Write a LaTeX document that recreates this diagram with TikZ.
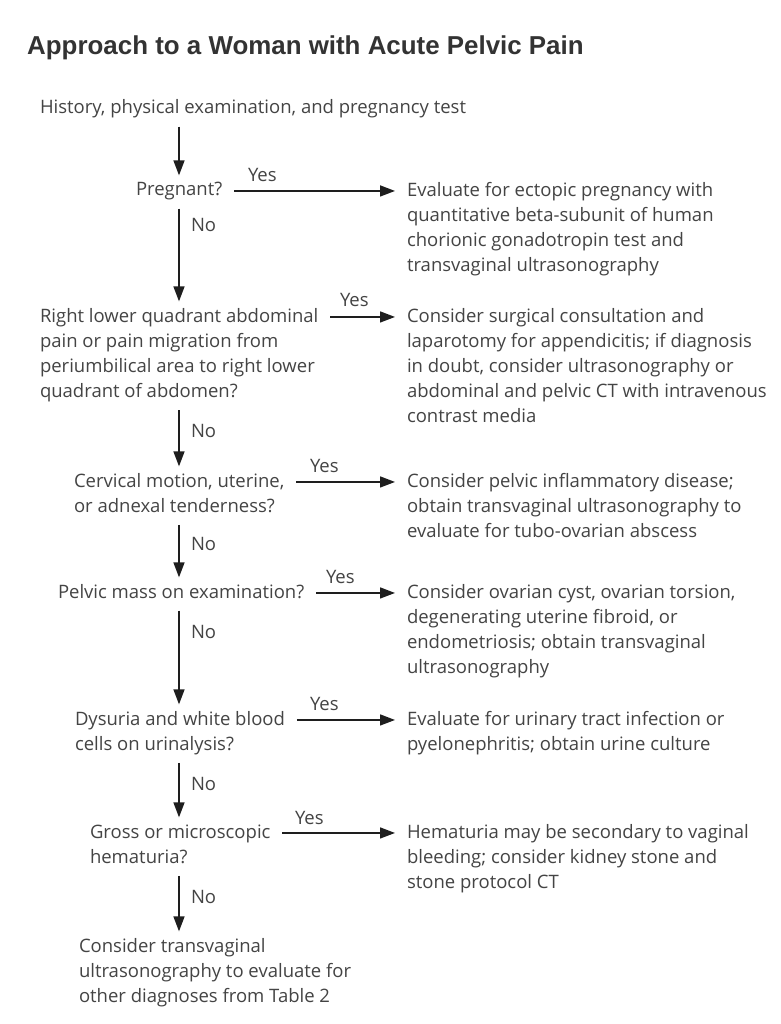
\documentclass[tikz,border=0pt]{standalone}
\usepackage{fontspec}
\setmainfont{Open Sans}
\newfontfamily\titlefont{Liberation Sans}
\usetikzlibrary{arrows.meta}
\definecolor{tgray}{RGB}{68,68,68}
\definecolor{titlegray}{RGB}{51,51,51}
\definecolor{agray}{RGB}{30,30,30}
\begin{document}
\begin{tikzpicture}[x=1pt,y=-1pt,
  txt/.style={anchor=north west, inner sep=0pt, outer sep=0pt, align=left, text=tgray,
    font=\fontsize{18.5}{25.2}\selectfont},
  lbl/.style={anchor=base west, inner sep=0pt, outer sep=0pt, text=tgray,
    font=\fontsize{18.5}{25.2}\selectfont},
  arr/.style={draw=agray, line width=1.5pt, -{Triangle[length=15pt,width=11pt]}},
  varr/.style={arr, shorten <=5pt, shorten >=3pt},
  harr/.style={arr, shorten <=12pt, shorten >=12pt}]
\clip (0,0) rectangle (780,1024);
\fill[white] (0,0) rectangle (780,1024);
\coordinate (spine) at (179,0);
\node[anchor=base west, inner sep=0pt, text=titlegray, font=\titlefont\bfseries\fontsize{25.9}{30}\selectfont] (title) at (27,55) {Approach to a Woman with Acute Pelvic Pain};

\node[txt] (hist) at (40,96.36) {\strut History, physical examination, and pregnancy test};
\node[txt] (q1) at (136,178.36) {\strut Pregnant?};
\node[txt] (a1) at (407,178.36) {\strut Evaluate for ectopic pregnancy with\\ quantitative beta-subunit of human\\ chorionic gonadotropin test and\\ transvaginal ultrasonography\strut};
\node[txt] (q2) at (40,304.36) {\strut Right lower quadrant abdominal\\ pain or pain migration from\\ periumbilical area to right lower\\ quadrant of abdomen?\strut};
\node[txt] (a2) at (407,304.36) {\strut Consider surgical consultation and\\ laparotomy for appendicitis; if diagnosis\\ in doubt, consider ultrasonography or\\ abdominal and pelvic CT with intravenous\\ contrast media\strut};
\node[txt] (q3) at (74,469.36) {\strut Cervical motion, uterine,\\ or adnexal tenderness?\strut};
\node[txt] (a3) at (407,469.36) {\strut Consider pelvic inflammatory disease;\\ obtain transvaginal ultrasonography to\\ evaluate for tubo-ovarian abscess\strut};
\node[txt] (q4) at (58,580.36) {\strut Pelvic mass on examination?};
\node[txt] (a4) at (407,580.36) {\strut Consider ovarian cyst, ovarian torsion,\\ degenerating uterine fibroid, or\\ endometriosis; obtain transvaginal\\ ultrasonography\strut};
\node[txt] (q5) at (75,707.36) {\strut Dysuria and white blood\\ cells on urinalysis?\strut};
\node[txt] (a5) at (407,707.36) {\strut Evaluate for urinary tract infection or\\ pyelonephritis; obtain urine culture\strut};
\node[txt] (q6) at (90,820.36) {\strut Gross or microscopic\\ hematuria?\strut};
\node[txt] (a6) at (407,820.36) {\strut Hematuria may be secondary to vaginal\\ bleeding; consider kidney stone and\\ stone protocol CT\strut};
\node[txt] (q7) at (79,934.36) {\strut Consider transvaginal\\ ultrasonography to evaluate for\\ other diagnoses from Table 2\strut};

% vertical arrows
\draw[varr] (hist.south -| spine) -- (q1.north -| spine);
\draw[varr] (q1.south -| spine) -- (q2.north -| spine);
\draw[varr] (q2.south -| spine) -- (q3.north -| spine);
\draw[varr] (q3.south -| spine) -- (q4.north -| spine);
\draw[varr] (q4.south -| spine) -- (q5.north -| spine);
\draw[varr] (q5.south -| spine) -- (q6.north -| spine);
\draw[varr] (q6.south -| spine) -- (q7.north -| spine);

% horizontal arrows
\draw[harr] ([yshift=-12.6pt]q1.north east) -- ([yshift=-12.6pt]a1.north west);
\draw[harr] ([yshift=-12.6pt]q2.north east) -- ([yshift=-12.6pt]a2.north west);
\draw[harr] ([yshift=-12.6pt]q3.north east) -- ([yshift=-12.6pt]a3.north west);
\draw[harr] ([yshift=-12.6pt]q4.north east) -- ([yshift=-12.6pt]a4.north west);
\draw[harr] ([yshift=-12.6pt]q5.north east) -- ([yshift=-12.6pt]a5.north west);
\draw[harr] ([yshift=-12.6pt]q6.north east) -- ([yshift=-12.6pt]a6.north west);

% labels
\node[lbl] (y1) at (248,182) {Yes};
\node[lbl] (y2) at (340,306) {Yes};
\node[lbl] (y3) at (310,472) {Yes};
\node[lbl] (y4) at (326,583) {Yes};
\node[lbl] (y5) at (310,710) {Yes};
\node[lbl] (y6) at (295,824) {Yes};
\node[lbl] (n1) at (191,232) {No};
\node[lbl] (n2) at (191,437) {No};
\node[lbl] (n3) at (191,550) {No};
\node[lbl] (n4) at (191,638) {No};
\node[lbl] (n5) at (191,790) {No};
\node[lbl] (n6) at (191,903) {No};
\end{tikzpicture}
\end{document}
